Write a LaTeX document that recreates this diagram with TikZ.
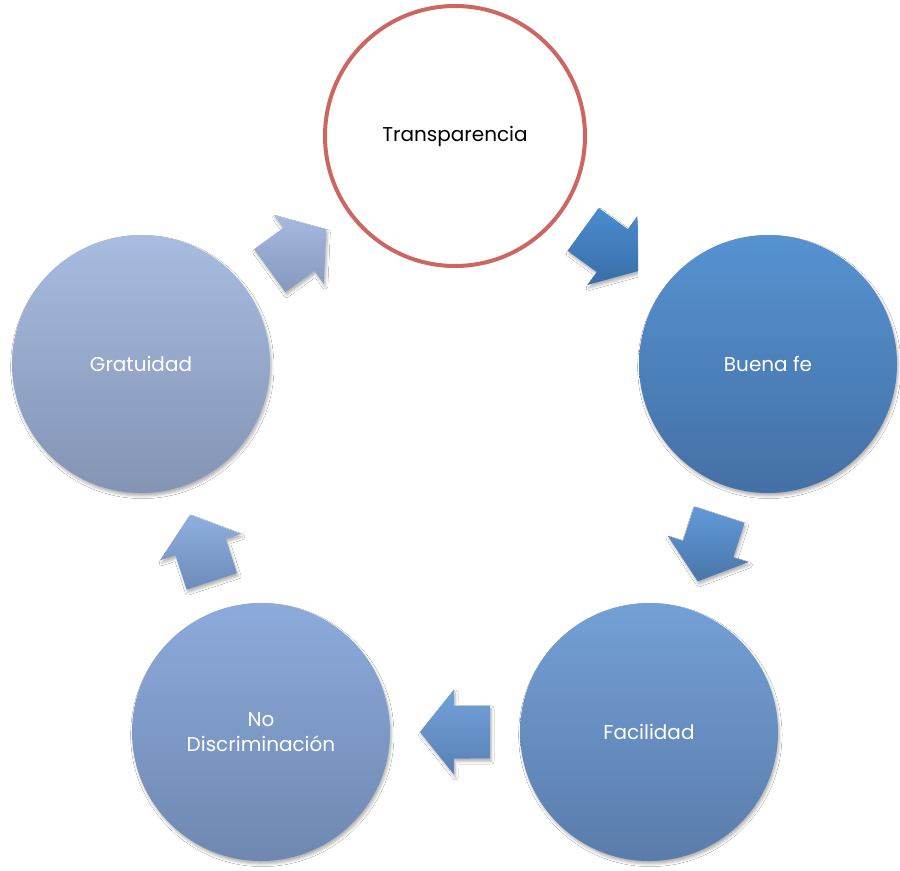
\documentclass[tikz,border=0pt]{standalone}
\usepackage{fontspec}
\setmainfont{Poppins}
\usetikzlibrary{calc,shadows.blur}
\definecolor{redline}{HTML}{CC6660}
\newcommand\cycarrow[4]{%
  \begin{scope}[shift={($(#1)!0.5!(#2)$)}]
    \path[arrowshape,#4]
      (#3-142.9:43.9) -- (#3-87.8:26.52) -- (#3-88.65:42.51) -- (#3:35)
      -- (#3+88.65:42.51) -- (#3+87.8:26.52) -- (#3+142.9:43.9) -- cycle;
  \end{scope}}
\begin{document}
\begin{tikzpicture}[x=0.75pt,y=-0.75pt,
  softshadow/.style={blur shadow={shadow xshift=1pt,shadow yshift=-2.2pt,shadow blur radius=2pt,shadow opacity=30}},
  circ/.style={circle,minimum size=193.5pt,inner sep=0pt,align=center,text=white,
    font=\fontsize{15}{18.75}\selectfont,softshadow},
  arrowshape/.style={softshadow}]
\useasboundingbox (0,0) rectangle (900,871);
\fill[white] (0,0) rectangle (900,871);
% circles
\node[circle,minimum size=195pt,inner sep=0pt,draw=redline,line width=3pt,fill=white,
  font=\fontsize{15}{18.75}\selectfont,text=black] (T) at (455,136) {\raisebox{-1.5pt}{Transparencia}};
\node[circ,top color={rgb,255:red,86;green,146;blue,209},bottom color={rgb,255:red,68;green,112;blue,165}] (B) at (768,364) {Buena fe};
\node[circ,top color={rgb,255:red,115;green,160;blue,214},bottom color={rgb,255:red,90;green,124;blue,170}] (F) at (649,732) {Facilidad};
\node[circ,top color={rgb,255:red,140;green,170;blue,219},bottom color={rgb,255:red,110;green,136;blue,176}] (N) at (261,732) {No\\Discriminación};
\node[circ,top color={rgb,255:red,167;green,188;blue,224},bottom color={rgb,255:red,131;green,148;blue,180}] (G) at (141,364) {Gratuidad};
% arrows
\cycarrow{G}{T}{-36}{top color={rgb,255:red,166;green,186;blue,224},bottom color={rgb,255:red,133;green,153;blue,191}}
\begin{scope}
  \clip (0,0) rectangle (638,871);
  \cycarrow{T}{B}{36}{top color={rgb,255:red,74;green,140;blue,210},bottom color={rgb,255:red,58;green,110;blue,166}}
\end{scope}
\cycarrow{B}{F}{108}{top color={rgb,255:red,97;green,154;blue,216},bottom color={rgb,255:red,74;green,117;blue,170}}
\cycarrow{F}{N}{180}{top color={rgb,255:red,114;green,162;blue,218},bottom color={rgb,255:red,88;green,128;blue,181}}
\cycarrow{N}{G}{-108}{top color={rgb,255:red,143;green,175;blue,223},bottom color={rgb,255:red,108;green,139;blue,186}}
\end{tikzpicture}
\end{document}
